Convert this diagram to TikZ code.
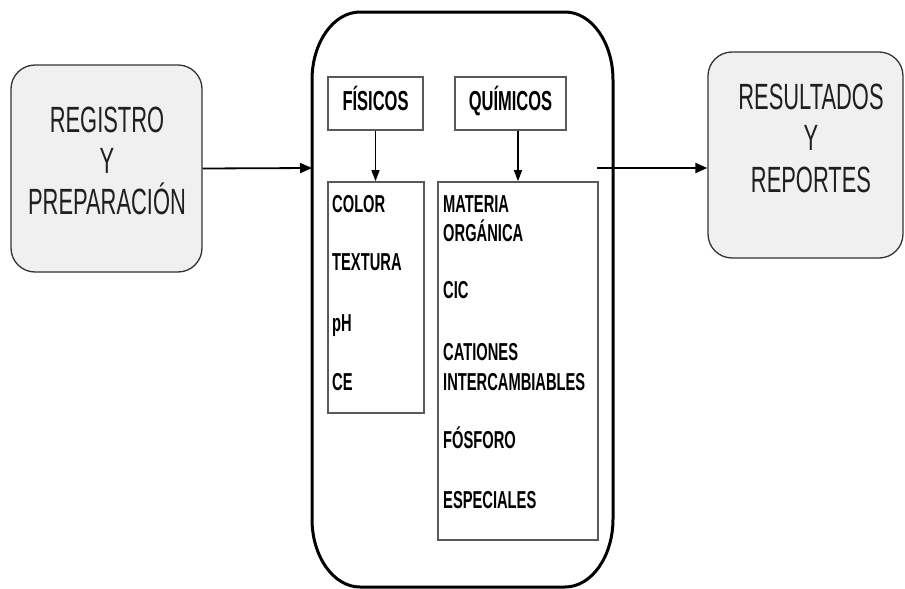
\documentclass[tikz,border=0pt]{standalone}
\usepackage{fontspec}
\setmainfont{Liberation Sans}
\newfontfamily\narrowsans[FakeStretch=0.6]{Liberation Sans}
\usetikzlibrary{arrows.meta,calc}

\begin{document}
\begin{tikzpicture}[x=1pt,y=-1pt,
  sidebox/.style={draw=black!80, line width=1.3pt, fill=black!6, rounded corners=24pt, inner sep=0pt},
  bigtxt/.style={font=\narrowsans\fontsize{36.5}{40}\selectfont, text=black!88, inner sep=0pt, anchor=base},
  hdrbox/.style={draw=black!65, line width=1.6pt, fill=white, inner sep=0pt},
  hdrtxt/.style={font=\narrowsans\bfseries\fontsize{27.5}{30}\selectfont, inner sep=0pt, anchor=base},
  itemtxt/.style={font=\narrowsans\bfseries\fontsize{24.5}{27}\selectfont, inner sep=0pt, anchor=base west},
  mainarrow/.style={line width=1.8pt, -{Triangle[length=12pt,width=10pt]}},
  subarrow/.style={line width=1.2pt, -{Triangle[length=11pt,width=8pt]}},
]
\useasboundingbox (0,0) rectangle (905,589);

% side boxes
\node (reg) [sidebox, minimum width=191pt, minimum height=207pt] at (106.5,168.5) {};
\node (reg1) [bigtxt] at (107,132) {REGISTRO};
\node (reg2) [bigtxt] at (107,173) {Y};
\node (reg3) [bigtxt] at (107,214) {PREPARACIÓN};

\node (res) [sidebox, minimum width=195pt, minimum height=206pt] at (805.5,155) {};
\node (res1) [bigtxt] at (811,109) {RESULTADOS};
\node (res2) [bigtxt] at (811,150) {Y};
\node (res3) [bigtxt] at (811,192) {REPORTES};

% central analysis block with elliptical corners
\draw[line width=3pt]
  (312,80) arc[start angle=180, end angle=90, x radius=48pt, y radius=68pt]
  -- (565,12) arc[start angle=90, end angle=0, x radius=48pt, y radius=68pt]
  -- (613,519) arc[start angle=0, end angle=-90, x radius=48pt, y radius=68pt]
  -- (360,587) arc[start angle=270, end angle=180, x radius=48pt, y radius=68pt]
  -- cycle;
\coordinate (bigW) at (312,168);

% headers
\node (fis) [hdrbox, minimum width=95pt, minimum height=53pt] at (375.5,103.5) {};
\node (fist) [hdrtxt] at (375.5,110) {FÍSICOS};
\node (qui) [hdrbox, minimum width=111pt, minimum height=53pt] at (510.5,103.5) {};
\node (quit) [hdrtxt] at (510.5,110) {QUÍMICOS};

% lists
\node (fislist) [hdrbox, minimum width=96pt, minimum height=231pt] at (376,297.5) {};
\node (quilist) [hdrbox, minimum width=160pt, minimum height=358pt] at (518,361) {};

\node (f1) [itemtxt] at (332,212) {COLOR};
\node (f2) [itemtxt] at (332,270) {TEXTURA};
\node (f3) [itemtxt] at (332,331) {pH};
\node (f4) [itemtxt] at (332,390) {CE};

\node (q1) [itemtxt] at (443,212) {MATERIA};
\node (q2) [itemtxt] at (443,241) {ORGÁNICA};
\node (q3) [itemtxt] at (443,298) {CIC};
\node (q4) [itemtxt] at (443,360) {CATIONES};
\node (q5) [itemtxt] at (443,390) {INTERCAMBIABLES};
\node (q6) [itemtxt] at (443,448) {FÓSFORO};
\node (q7) [itemtxt] at (443,508) {ESPECIALES};

% connectors
\draw[subarrow] (fis.south) -- (fis.south |- fislist.north);
\draw[subarrow] (quilist.north |- qui.south) -- (quilist.north);
\draw[mainarrow] (reg.east) -- (bigW);
\coordinate (outS) at (597,168);
\draw[mainarrow] (outS) -- (outS -| res.west);
\end{tikzpicture}
\end{document}
